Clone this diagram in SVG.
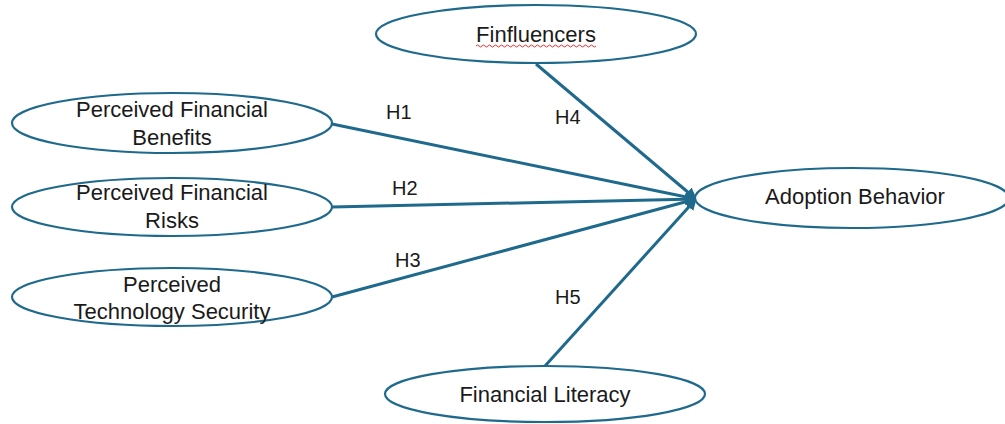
<svg xmlns="http://www.w3.org/2000/svg" width="1005" height="424" viewBox="0 0 1005 424">
  <style>
    .node ellipse { fill: #ffffff; stroke: #1f6a8c; stroke-width: 2.2; }
    .node text { font-family: "Liberation Sans", Arial, sans-serif; font-size: 22px; fill: #1a1a1a; text-anchor: middle; }
    .edge { stroke: #1f6a8c; stroke-width: 3; fill: none; marker-end: url(#head); }
    .lbl { font-family: "Liberation Sans", Arial, sans-serif; font-size: 20px; fill: #1a1a1a; }
    .squiggle { stroke: #e03030; stroke-width: 1; fill: none; }
  </style>
  <defs>
    <marker id="head" viewBox="0 0 10 10" refX="9" refY="5" markerWidth="4" markerHeight="4" orient="auto" markerUnits="strokeWidth">
      <path d="M0,0 L10,5 L0,10 z" fill="#1f6a8c"/>
    </marker>
  </defs>
  <rect width="1005" height="424" fill="#ffffff"/>

  <g id="connectors">
    <line class="edge" x1="332" y1="124" x2="696" y2="199"/>
    <line class="edge" x1="332" y1="207" x2="696" y2="199"/>
    <line class="edge" x1="332" y1="297" x2="696" y2="199"/>
    <line class="edge" x1="536" y1="64" x2="696" y2="199"/>
    <line class="edge" x1="545" y1="366" x2="696" y2="199"/>
    <text class="lbl" x="386" y="119">H1</text>
    <text class="lbl" x="392" y="195">H2</text>
    <text class="lbl" x="395" y="267">H3</text>
    <text class="lbl" x="555" y="124">H4</text>
    <text class="lbl" x="555" y="304">H5</text>
  </g>

  <g id="finfluencers" class="node">
    <ellipse cx="536" cy="34" rx="160" ry="29"/>
    <text x="536" y="42">Finfluencers</text>
    <path class="squiggle" d="M476,46 q1.5,-2 3,0 t3,0 t3,0 t3,0 t3,0 t3,0 t3,0 t3,0 t3,0 t3,0 t3,0 t3,0 t3,0 t3,0 t3,0 t3,0 t3,0 t3,0 t3,0 t3,0 t3,0 t3,0 t3,0 t3,0 t3,0 t3,0 t3,0 t3,0 t3,0 t3,0 t3,0 t3,0 t3,0 t3,0 t3,0 t3,0 t3,0 t3,0 t3,0 t3,0"/>
  </g>

  <g id="benefits" class="node">
    <ellipse cx="172" cy="123" rx="160" ry="30"/>
    <text x="172" y="117">Perceived Financial</text>
    <text x="172" y="145">Benefits</text>
  </g>

  <g id="risks" class="node">
    <ellipse cx="172" cy="207" rx="160" ry="29"/>
    <text x="172" y="200">Perceived Financial</text>
    <text x="172" y="228">Risks</text>
  </g>

  <g id="security" class="node">
    <ellipse cx="172" cy="297" rx="160" ry="29"/>
    <text x="172" y="292">Perceived</text>
    <text x="172" y="319">Technology Security</text>
  </g>

  <g id="adoption" class="node">
    <ellipse cx="852" cy="198" rx="157" ry="30"/>
    <text x="855" y="204">Adoption Behavior</text>
  </g>

  <g id="literacy" class="node">
    <ellipse cx="545" cy="394" rx="160" ry="28"/>
    <text x="545" y="402">Financial Literacy</text>
  </g>
</svg>
